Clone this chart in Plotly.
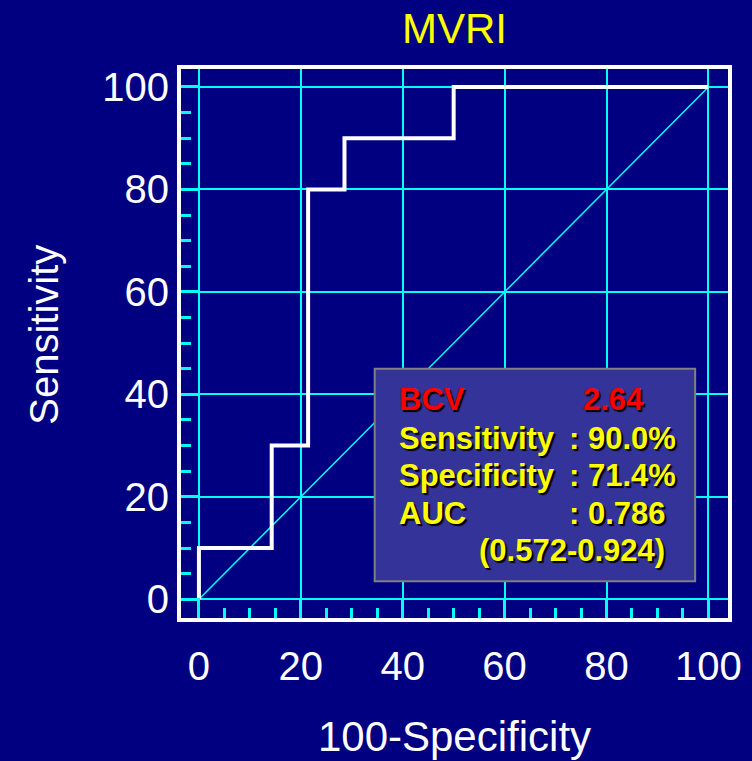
import plotly.graph_objects as go

# ROC curve points (100-Specificity, Sensitivity), 14 negatives / 10 positives
fpr = [0, 0, 100 * 2 / 14, 100 * 3 / 14, 100 * 4 / 14, 100 * 7 / 14, 100]
tpr = [0, 10, 30, 80, 90, 100, 100]

ref_x = [0, 100]
ref_y = [0, 100]

tick_vals = [0, 20, 40, 60, 80, 100]

stat_labels = ["Sensitivity", "Specificity", "AUC"]
stat_values = [": 90.0%", ": 71.4%", ": 0.786"]
bcv_label = "BCV"
bcv_value = "2.64"
auc_ci = "(0.572-0.924)"

NAVY = "#000080"
CYAN = "#00FFFF"
YELLOW = "#FFFF00"
RED = "#FF0000"
FONT = "Liberation Sans, Arial, sans-serif"
SHADOW = "2px 2px 1px #000000"

fig = go.Figure()

fig.add_trace(go.Scatter(
    x=ref_x, y=ref_y, mode="lines",
    line=dict(color=CYAN, width=1.5),
    hoverinfo="skip", showlegend=False,
))
fig.add_trace(go.Scatter(
    x=fpr, y=tpr, mode="lines", line_shape="hv",
    line=dict(color="white", width=4),
    showlegend=False,
))

# statistics box
fig.add_shape(
    type="rect", xref="x", yref="y",
    x0=34.5, x1=97.4, y0=3.5, y1=45.0,
    fillcolor="#333399", line=dict(color="#808080", width=2),
    layer="above",
)

box_font = dict(family=FONT, size=31, color=YELLOW, weight="bold", shadow=SHADOW)
red_font = dict(box_font, color=RED)

row_y = [31.4, 24.1, 16.8]
fig.add_annotation(x=38.8, y=39.0, text=bcv_label, font=red_font,
                   xanchor="left", yanchor="middle", showarrow=False)
fig.add_annotation(x=75.0, y=39.0, text=bcv_value, font=red_font,
                   xanchor="left", yanchor="middle", showarrow=False)
for lab, val, yy in zip(stat_labels, stat_values, row_y):
    fig.add_annotation(x=38.8, y=yy, text=lab, font=box_font,
                       xanchor="left", yanchor="middle", showarrow=False)
    fig.add_annotation(x=72.2, y=yy, text=val, font=box_font,
                       xanchor="left", yanchor="middle", showarrow=False)
fig.add_annotation(x=54.5, y=9.5, text=auc_ci, font=box_font,
                   xanchor="left", yanchor="middle", showarrow=False)

# y-axis title
fig.add_annotation(
    xref="paper", yref="paper", x=-0.251, y=0.5155,
    text="Sensitivity", textangle=-90, showarrow=False,
    font=dict(family=FONT, size=40, color="white"),
    xanchor="center", yanchor="middle",
)

axis_common = dict(
    tickvals=tick_vals,
    showgrid=True, gridcolor=CYAN, gridwidth=1.5,
    zeroline=False,
    showline=True, mirror=True, linecolor="white", linewidth=4,
    ticks="inside", ticklen=19, tickwidth=3, tickcolor=CYAN,
    minor=dict(dtick=5, ticks="inside", ticklen=10, tickwidth=3,
               tickcolor=CYAN, showgrid=False),
    tickfont=dict(family=FONT, size=40, color="white"),
    automargin=False,
    fixedrange=True,
)

fig.update_xaxes(
    range=[-3.52, 103.85],
    ticklabelstandoff=10,
    title=dict(text="100-Specificity",
               font=dict(family=FONT, size=42, color="white"),
               standoff=36),
    **axis_common,
)
fig.update_yaxes(
    range=[-3.65, 103.5],
    ticklabelstandoff=0,
    **axis_common,
)

fig.update_layout(
    width=752, height=761,
    margin=dict(l=181, r=24, t=69, b=143),
    paper_bgcolor=NAVY, plot_bgcolor=NAVY,
    title=dict(text="MVRI", font=dict(family=FONT, size=42, color=YELLOW),
               x=0.5, xref="paper", xanchor="center",
               y=1 - 28 / 761, yref="container", yanchor="middle"),
    showlegend=False,
)

fig.write_html("out.html")
